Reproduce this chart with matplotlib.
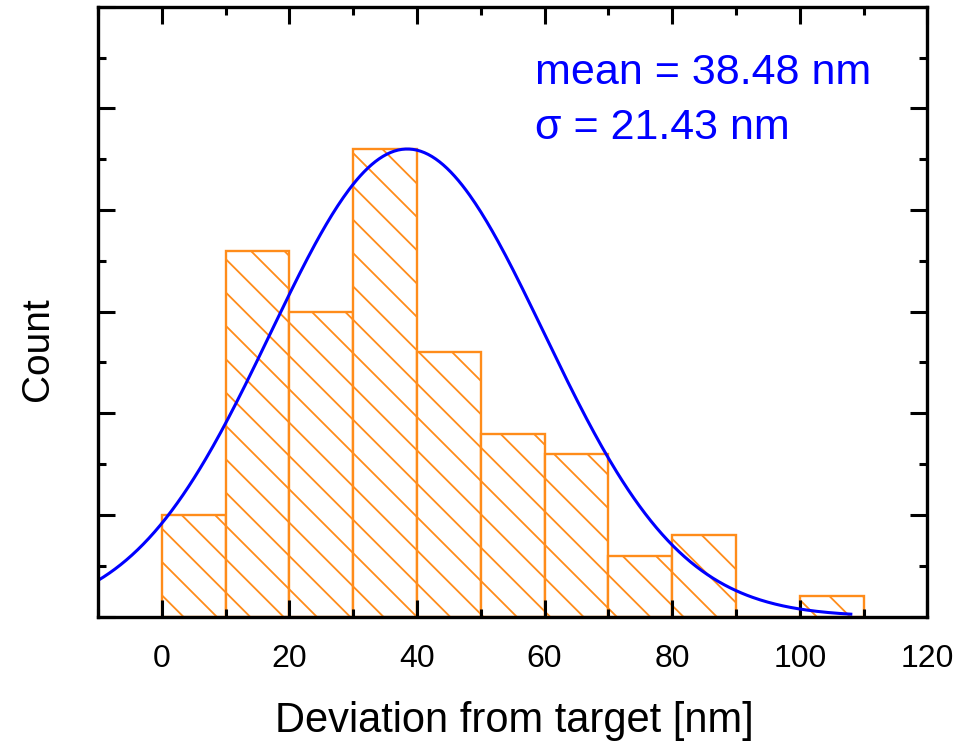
from matplotlib import pyplot as plt
import numpy as np

plt.rcParams["font.family"] = ["Liberation Sans", "DejaVu Sans"]
plt.rcParams["hatch.color"] = "#ff8c1a"
plt.rcParams["hatch.linewidth"] = 1.3

# histogram bins (nm) and counts
bin_edges = [0, 10, 20, 30, 40, 50, 60, 70, 80, 90, 100, 110]
counts = [5, 18, 15, 23, 13, 9, 8, 3, 4, 0, 1]

# gaussian fit shown on the plot
fit_mean = 38.48
fit_sigma = 21.43
fit_amp = 23.0
fit_range = [-10, 108]


def main():
    fig = plt.figure(figsize=(9.61, 7.42), dpi=100)
    ax = fig.add_axes([0.102, 0.169, 0.863, 0.822])

    edges = np.array(bin_edges)
    ax.bar(edges[:-1], counts, width=np.diff(edges), align="edge",
           facecolor="white", edgecolor="#ff8c1a", linewidth=1.7, hatch="\\")

    x = np.linspace(fit_range[0], fit_range[1], 400)
    y = fit_amp * np.exp(-(x - fit_mean) ** 2 / (2 * fit_sigma ** 2))
    ax.plot(x, y, color="#0000ff", linewidth=2.2)

    ax.text(535 / 961, 1 - 84 / 742, "mean = 38.48 nm", transform=fig.transFigure,
            color="#0000ff", fontsize=31, va="baseline", ha="left")
    ax.text(535 / 961, 1 - 139 / 742, "\u03c3 = 21.43 nm", transform=fig.transFigure,
            color="#0000ff", fontsize=31, va="baseline", ha="left")

    ax.set_xlim(-10, 120)
    ax.set_ylim(0, 30)
    ax.set_xticks(np.arange(0, 121, 20))
    ax.set_xticks(np.arange(-10, 121, 10), minor=True)
    ax.set_yticks(np.arange(0, 31, 5))
    ax.set_yticks(np.arange(0, 31, 2.5), minor=True)
    ax.set_yticklabels([])
    ax.tick_params(which="both", direction="in", top=True, right=True, width=2.2)
    ax.tick_params(which="major", length=12, labelsize=23, pad=20)
    ax.tick_params(which="minor", length=6)
    for s in ax.spines.values():
        s.set_linewidth(2.4)

    ax.set_xlabel("Deviation from target [nm]", fontsize=30)
    ax.xaxis.set_label_coords(0.535, 0.055, transform=fig.transFigure)
    ax.set_ylabel("Count", fontsize=28)
    ax.yaxis.set_label_coords(0.058, 0.53, transform=fig.transFigure)

    fig.savefig("out.png", dpi=100)


if __name__ == '__main__':
    main()
